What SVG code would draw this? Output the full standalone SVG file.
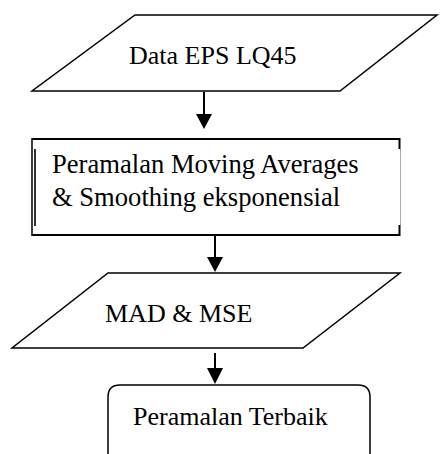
<svg xmlns="http://www.w3.org/2000/svg" width="440" height="454" viewBox="0 0 440 454">
<style>
.shape{fill:#fff;stroke:#000;stroke-width:1.5}
.lbl{font-family:"Liberation Serif","Times New Roman",serif;font-size:26px;fill:#000}
.big{font-size:26.6px}
.conn{stroke:#000;stroke-width:2;fill:none}
.head{fill:#000}
</style>
<rect width="440" height="454" fill="#fff"/>
<g id="node-data">
<polygon class="shape" points="135,15 437,15 340,91 32,91"/>
<text class="lbl" x="129" y="64">Data EPS LQ45</text>
</g>
<g id="node-peramalan">
<path d="M32,139 H400" stroke="#000" stroke-width="2"/>
<path d="M32,235 H400" stroke="#000" stroke-width="2"/>
<path d="M32,138 V236" stroke="#000" stroke-width="1.5"/>
<path d="M35,149 V226" stroke="#333" stroke-width="2"/>
<path d="M399.5,138 V149 M399.5,225 V236" stroke="#000" stroke-width="2"/>
<path d="M400.5,149 V225" stroke="#aaa" stroke-width="1"/>
<text class="lbl big" x="52" y="173">Peramalan Moving Averages</text>
<text class="lbl big" x="52" y="206">&amp; Smoothing eksponensial</text>
</g>
<g id="node-mad">
<polygon class="shape" points="108,273 400,273 303,348 12,348"/>
<text class="lbl" x="105" y="322">MAD &amp; MSE</text>
</g>
<g id="node-terbaik">
<path class="shape" d="M108,460 V397 Q108,385 120,385 H358 Q370,385 370,397 V460"/>
<text class="lbl" x="133" y="425">Peramalan Terbaik</text>
</g>
<g id="connectors">
<line class="conn" x1="204" y1="92" x2="204" y2="116"/>
<polygon class="head" points="196,114 212,114 204,129"/>
<line class="conn" x1="215" y1="236" x2="215" y2="259"/>
<polygon class="head" points="207,257 223,257 215,272"/>
<line class="conn" x1="215" y1="353" x2="215" y2="370"/>
<polygon class="head" points="207,368 223,368 215,384"/>
</g>
</svg>
